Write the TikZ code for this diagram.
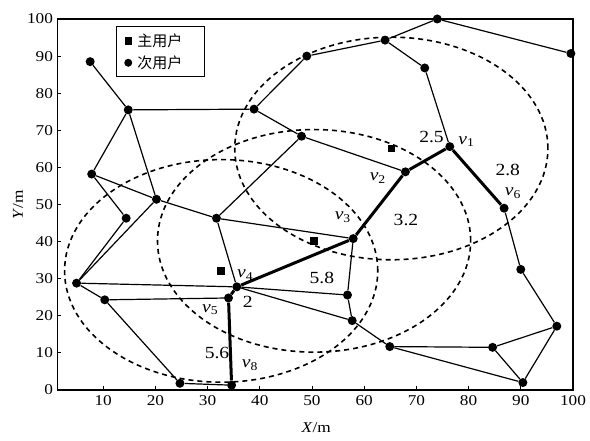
\documentclass[tikz,border=0pt]{standalone}
\usepackage{fontspec}
\setmainfont[FakeStretch=1.15]{Liberation Serif}
\newfontfamily\cjk{Noto Sans CJK SC}
\newcommand{\vv}[1]{\textit{v}\textsubscript{#1}}
\begin{document}
\begin{tikzpicture}[x=5.22pt,y=3.71pt,
  su/.style={circle,fill=black,inner sep=0pt,minimum size=9pt},
  pu/.style={rectangle,fill=black,inner sep=0pt,minimum size=7.5pt},
  edge/.style={line width=1.2pt},
  best/.style={line width=3pt},
  rng/.style={line width=1.6pt,dash pattern=on 5pt off 4pt},
  lab/.style={font=\fontsize{17}{17}\selectfont,inner sep=1pt},
  tick/.style={font=\fontsize{15}{15}\selectfont,inner sep=1pt}]
\useasboundingbox (-9.77,-13.75) rectangle (103.26,105.12);
% primary users and ranges
\node[pu] (p1) at (65.2,65.1) {};
\node[pu] (p2) at (50.4,40.2) {};
\node[pu] (p3) at (32.6,32.1) {};
\draw[rng] (p1.center) ellipse [x radius=156.6pt, y radius=111.3pt];
\draw[rng] (p2.center) ellipse [x radius=156.6pt, y radius=111.3pt];
\draw[rng] (p3.center) ellipse [x radius=156.6pt, y radius=111.3pt];
% secondary users
\node[su] (n1) at (7.5,88.5) {};
\node[su] (n2) at (14.8,75.5) {};
\node[su] (n3) at (38.9,75.7) {};
\node[su] (n4) at (49,90) {};
\node[su] (n5) at (64,94.3) {};
\node[su] (n6) at (74,100) {};
\node[su] (n7) at (71.6,86.8) {};
\node[su] (n8) at (99.6,90.7) {};
\node[su] (nA) at (48,68.4) {};
\node[su] (v1) at (76.4,65.6) {};
\node[su] (v2) at (67.9,58.8) {};
\node[su] (v6) at (86.8,49) {};
\node[su] (v3) at (57.9,40.8) {};
\node[su] (n14) at (7.8,58.2) {};
\node[su] (n15) at (14.4,46.3) {};
\node[su] (n16) at (20.2,51.4) {};
\node[su] (n17) at (31.7,46.3) {};
\node[su] (n18) at (4.9,28.8) {};
\node[su] (n19) at (10.3,24.3) {};
\node[su] (v4) at (35.6,27.8) {};
\node[su] (v5) at (34,24.8) {};
\node[su] (n22) at (56.8,25.6) {};
\node[su] (n23) at (57.7,18.7) {};
\node[su] (n24) at (64.9,11.7) {};
\node[su] (n25) at (84.6,11.5) {};
\node[su] (n26) at (96.9,17.2) {};
\node[su] (n27) at (90,32.5) {};
\node[su] (n28) at (90.4,2) {};
\node[su] (n29) at (24.7,1.8) {};
\node[su] (v8) at (34.6,1.3) {};
% thin edges
\foreach \a/\b in {n1/n2,n2/n3,n2/n14,n2/n16,n3/n4,n3/nA,n4/n5,n5/n6,n5/n7,n6/n8,n7/v1,nA/v2,nA/n17,
  n14/n16,n14/n15,n15/n18,n16/n18,n16/n17,n18/n19,n18/v4,n19/v5,n19/n29,n29/v8,n17/v4,n17/v3,
  v3/n22,n22/n23,v4/n22,v4/n23,n23/n24,n24/n25,n24/n28,n25/n26,n25/n28,n26/n28,n27/n26,v6/n27}
  \draw[edge] (\a) -- (\b);
% best path
\draw[best] (v8) -- (v5) -- (v4) -- (v3) -- (v2) -- (v1) -- (v6);
% labels
\node[lab] (lv1) at (79.6,66.9) {\vv{1}};
\node[lab] (w25) at (72.9,68.3) {2.5};
\node[lab] (w28) at (87.5,59.3) {2.8};
\node[lab] (lv6) at (88.5,53.1) {\vv{6}};
\node[lab] (lv2) at (62.6,57.1) {\vv{2}};
\node[lab] (w32) at (68,45.8) {3.2};
\node[lab] (lv3) at (55.9,46.6) {\vv{3}};
\node[lab] (w58) at (51.9,30.2) {5.8};
\node[lab] (lv4) at (37.2,31) {\vv{4}};
\node[lab] (w2) at (37.7,23.7) {2};
\node[lab] (lv5) at (30.5,21.6) {\vv{5}};
\node[lab] (w56) at (31.8,10) {5.6};
\node[lab] (lv8) at (38.1,6.7) {\vv{8}};
% axes
\draw[line width=1.4pt] (1.25,0) rectangle (100,100);
\foreach \x in {10,20,...,100} {
  \draw[line width=0.8pt] (\x,0) -- (\x,1);
  \node[tick,anchor=north] (tx\x) at (\x,-1.2) {\x};
}
\foreach \y in {0,10,...,100} {
  \draw[line width=0.8pt] (1.25,\y) -- (2,\y);
  \node[tick,anchor=east] (ty\y) at (0.6,\y) {\y};
}
\node[tick] (xl) at (50.8,-10.2) {\textit{X}/m};
\node[tick,rotate=90] (yl) at (-6.3,49.9) {\textit{Y}/m};
% legend
\draw[line width=1pt,fill=white] (12.6,84.6) rectangle (29.5,97.9);
\node[pu] (lp) at (14.8,94.1) {};
\node[su,minimum size=8pt] (ls) at (14.8,88.2) {};
\node[anchor=west,inner sep=0pt,font=\cjk\fontsize{15}{15}\selectfont] (lt1) at (16.5,94.1) {主用户};
\node[anchor=west,inner sep=0pt,font=\cjk\fontsize{15}{15}\selectfont] (lt2) at (16.5,88.2) {次用户};
\end{tikzpicture}
\end{document}
